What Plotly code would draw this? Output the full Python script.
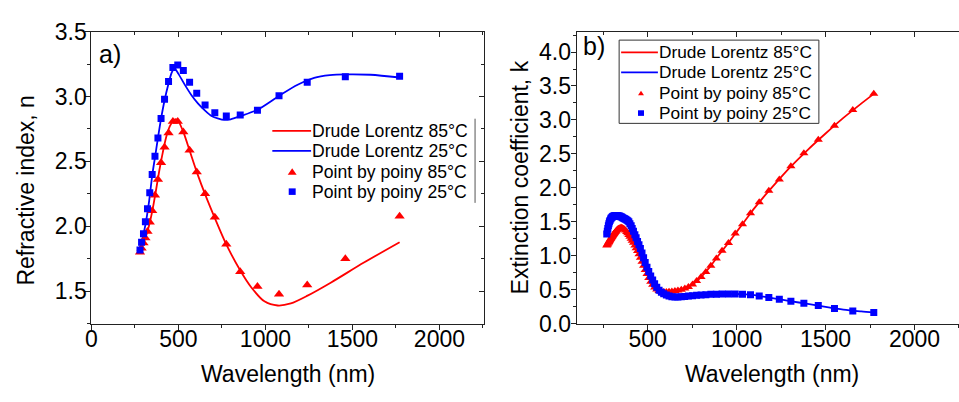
import plotly.graph_objects as go

# ---------------- Panel a: refractive index n ----------------
wl_a = [279, 288, 299, 310, 322, 335, 349, 365, 382, 400, 420, 443, 468,
        496, 528, 564, 605, 653, 709, 775, 855, 954, 1078, 1240, 1459, 1771]
n_pts_25 = [1.817, 1.877, 1.942, 2.034, 2.135, 2.258, 2.399, 2.539, 2.68, 2.83,
            2.98, 3.116, 3.224, 3.243, 3.20, 3.11, 3.026, 2.935, 2.875, 2.851,
            2.858, 2.894, 3.007, 3.11, 3.152, 3.156]
n_pts_85 = [1.80, 1.83, 1.87, 1.91, 1.96, 2.03, 2.12, 2.24, 2.36, 2.49,
            2.61, 2.719, 2.808, 2.808, 2.726, 2.586, 2.418, 2.25, 2.07, 1.861,
            1.649, 1.536, 1.476, 1.548, 1.75, 2.077]

fit_wl_a85 = [275, 290, 310, 330, 350, 370, 390, 410, 430, 450, 470, 485, 500,
              530, 565, 610, 655, 710, 775, 857, 918, 994, 1070, 1146, 1242,
              1375, 1566, 1771]
fit_n_85 = [1.79, 1.84, 1.91, 2.0, 2.12, 2.27, 2.43, 2.57, 2.69, 2.77, 2.815,
            2.825, 2.81, 2.72, 2.58, 2.40, 2.24, 2.06, 1.86, 1.655, 1.53, 1.421,
            1.389, 1.405, 1.465, 1.565, 1.72, 1.877]

fit_wl_a25 = [270, 290, 310, 330, 350, 365, 382, 400, 420, 443, 460, 472, 485,
              500, 537, 575, 613, 650, 690, 730, 762, 800, 857, 956, 1080, 1185,
              1280, 1370, 1461, 1604, 1771]
fit_n_25 = [1.80, 1.89, 2.01, 2.18, 2.40, 2.53, 2.68, 2.83, 2.97, 3.10, 3.18,
            3.21, 3.205, 3.175, 3.09, 3.01, 2.945, 2.895, 2.85, 2.83, 2.82, 2.825,
            2.85, 2.90, 3.007, 3.091, 3.144, 3.165, 3.171, 3.168, 3.147]

# ---------------- Panel b: extinction coefficient k ----------------
wl_b = [270, 273, 276, 279, 282, 285, 288, 292, 295, 299,
        302, 306, 310, 314, 318, 322, 326, 331, 335, 340,
        344, 349, 354, 359, 365, 370, 376, 382, 388, 394,
        400, 407, 413, 420, 428, 435, 443, 451, 459, 468,
        477, 486, 496, 506, 517, 528, 539, 551, 564, 577,
        590, 605, 620, 636, 653, 670, 689, 709, 729, 752,
        775, 800, 827, 855, 886, 918, 954, 992, 1033, 1078,
        1127, 1181, 1240, 1305, 1378, 1459, 1550, 1653, 1771]
k_pts_25 = [1.32, 1.36, 1.40, 1.44, 1.47, 1.50, 1.52, 1.54, 1.555, 1.565,
            1.575, 1.58, 1.585, 1.59, 1.59, 1.59, 1.59, 1.59, 1.585, 1.585,
            1.58, 1.575, 1.57, 1.56, 1.55, 1.545, 1.535, 1.525, 1.515, 1.50,
            1.47, 1.44, 1.40, 1.36, 1.31, 1.265, 1.21, 1.16, 1.105, 1.04,
            0.97, 0.90, 0.83, 0.765, 0.70, 0.64, 0.585, 0.535, 0.49, 0.46,
            0.44, 0.42, 0.405, 0.395, 0.39, 0.39, 0.395, 0.40, 0.405, 0.41,
            0.415, 0.42, 0.425, 0.43, 0.432, 0.435, 0.435, 0.435, 0.432, 0.425,
            0.405, 0.382, 0.359, 0.327, 0.30, 0.267, 0.221, 0.186, 0.162]
k_pts_85 = [1.15, 1.16, 1.175, 1.19, 1.20, 1.215, 1.23, 1.245, 1.26, 1.275,
            1.29, 1.305, 1.32, 1.335, 1.35, 1.36, 1.375, 1.385, 1.395, 1.40,
            1.405, 1.41, 1.41, 1.405, 1.395, 1.385, 1.37, 1.35, 1.33, 1.305,
            1.28, 1.25, 1.22, 1.19, 1.15, 1.11, 1.07, 1.02, 0.97, 0.91,
            0.85, 0.79, 0.73, 0.67, 0.615, 0.57, 0.53, 0.50, 0.48, 0.47,
            0.465, 0.465, 0.468, 0.472, 0.478, 0.487, 0.498, 0.515, 0.54, 0.575,
            0.625, 0.685, 0.76, 0.85, 0.96, 1.073, 1.188, 1.326, 1.464, 1.626,
            1.786, 1.957, 2.123, 2.316, 2.51, 2.707, 2.914, 3.145, 3.384]

fit_wl_b = [270, 285, 300, 320, 340, 360, 380, 400, 420, 440,
            460, 480, 500, 520, 540, 560, 580, 600, 620, 650,
            680, 720, 760, 800, 850, 900, 950, 1000, 1050, 1100,
            1150, 1200, 1300, 1400, 1500, 1600, 1700, 1771]
fit_k_85 = [1.15, 1.215, 1.28, 1.355, 1.40, 1.405, 1.355, 1.28, 1.19, 1.09,
            0.965, 0.83, 0.705, 0.60, 0.527, 0.487, 0.47, 0.465, 0.468, 0.477,
            0.492, 0.528, 0.59, 0.685, 0.835, 1.01, 1.175, 1.35, 1.525, 1.70,
            1.86, 2.01, 2.30, 2.56, 2.80, 3.03, 3.24, 3.384]
fit_k_25 = [1.32, 1.50, 1.57, 1.59, 1.585, 1.56, 1.53, 1.47, 1.36, 1.23,
            1.10, 0.95, 0.80, 0.68, 0.58, 0.50, 0.455, 0.425, 0.405, 0.39,
            0.392, 0.402, 0.41, 0.42, 0.43, 0.433, 0.435, 0.435, 0.43, 0.42,
            0.395, 0.375, 0.33, 0.29, 0.245, 0.205, 0.178, 0.162]

labels = ["Drude Lorentz 85°C", "Drude Lorentz 25°C",
          "Point by poiny 85°C", "Point by poiny 25°C"]

RED = "#ff0000"
BLUE = "#0000ff"
FONT = "Liberation Sans, Arial, sans-serif"
W, H = 959, 402


def px_x(p):
    return p / W


def px_y(p):
    return (H - p) / H


fig = go.Figure()

# panel a
fig.add_trace(go.Scatter(x=fit_wl_a85, y=fit_n_85, mode="lines", name=labels[0],
                         line=dict(color=RED, width=1.8, shape="spline", smoothing=0.8),
                         xaxis="x", yaxis="y"))
fig.add_trace(go.Scatter(x=fit_wl_a25, y=fit_n_25, mode="lines", name=labels[1],
                         line=dict(color=BLUE, width=1.8, shape="spline", smoothing=0.8),
                         xaxis="x", yaxis="y"))
fig.add_trace(go.Scatter(x=wl_a, y=n_pts_85, mode="markers", name=labels[2],
                         marker=dict(symbol="triangle-up", size=9, color=RED),
                         xaxis="x", yaxis="y"))
fig.add_trace(go.Scatter(x=wl_a, y=n_pts_25, mode="markers", name=labels[3],
                         marker=dict(symbol="square", size=7, color=BLUE),
                         xaxis="x", yaxis="y"))

# panel b
fig.add_trace(go.Scatter(x=fit_wl_b, y=fit_k_85, mode="lines", name=labels[0],
                         line=dict(color=RED, width=1.8, shape="spline", smoothing=0.8),
                         xaxis="x2", yaxis="y2"))
fig.add_trace(go.Scatter(x=fit_wl_b, y=fit_k_25, mode="lines", name=labels[1],
                         line=dict(color=BLUE, width=1.8, shape="spline", smoothing=0.8),
                         xaxis="x2", yaxis="y2"))
fig.add_trace(go.Scatter(x=wl_b, y=k_pts_85, mode="markers", name=labels[2],
                         marker=dict(symbol="triangle-up", size=8, color=RED),
                         xaxis="x2", yaxis="y2"))
fig.add_trace(go.Scatter(x=wl_b, y=k_pts_25, mode="markers", name=labels[3],
                         marker=dict(symbol="square", size=7, color=BLUE),
                         xaxis="x2", yaxis="y2"))

# empty traces that carry the mirrored frame axes (top / right, ticks inward)
fig.add_trace(go.Scatter(x=[], y=[], xaxis="x3", yaxis="y3", hoverinfo="skip"))
fig.add_trace(go.Scatter(x=[], y=[], xaxis="x4", yaxis="y4", hoverinfo="skip"))

XA = [86, 481]
XB = [574.3, 959]
YD = [px_y(332), px_y(20)]
XR_A = [0, 2256]
XR_B = [101, 2250]
YR_A = [1.25, 3.5]
YR_B = [0, 4.3]

axis_common = dict(showgrid=False, zeroline=False, showline=True,
                   linecolor="#222", linewidth=1.3, tickcolor="#222",
                   tickwidth=1, tickfont=dict(family=FONT, size=23, color="#000"))

fig.update_layout(
    width=W, height=H, margin=dict(l=0, r=0, t=0, b=0),
    paper_bgcolor="white", plot_bgcolor="white",
    font=dict(family=FONT, color="#000"),
    showlegend=False,
    xaxis=dict(domain=[px_x(XA[0]), px_x(XA[1])], range=XR_A, anchor="y",
               ticks="outside", ticklen=5, tick0=0, dtick=500, ticklabelstandoff=-10,
               minor=dict(ticks="outside", ticklen=3, dtick=250, tickcolor="#222"),
               **axis_common),
    yaxis=dict(domain=YD, range=YR_A, anchor="x",
               ticks="outside", ticklen=5, tick0=0, dtick=0.5, tickformat=".1f",
               ticklabelstandoff=-6,
               minor=dict(ticks="outside", ticklen=3, dtick=0.25, tickcolor="#222"),
               **axis_common),
    xaxis3=dict(overlaying="x", side="top", anchor="y", range=XR_A,
                ticks="inside", ticklen=5, tick0=0, dtick=500, showticklabels=False,
                minor=dict(ticks="inside", ticklen=3, dtick=250, tickcolor="#222"),
                **axis_common),
    yaxis3=dict(overlaying="y", side="right", anchor="x", range=YR_A,
                ticks="inside", ticklen=5, tick0=0, dtick=0.5, showticklabels=False,
                minor=dict(ticks="inside", ticklen=3, dtick=0.25, tickcolor="#222"),
                **axis_common),
    xaxis2=dict(domain=[px_x(XB[0]), px_x(XB[1])], range=XR_B, anchor="y2",
                ticks="outside", ticklen=5, tick0=0, dtick=500, ticklabelstandoff=-10,
                minor=dict(ticks="outside", ticklen=3, dtick=250, tickcolor="#222"),
                **axis_common),
    yaxis2=dict(domain=YD, range=YR_B, anchor="x2",
                ticks="outside", ticklen=5, tick0=0, dtick=0.5, tickformat=".1f",
                ticklabelstandoff=-5,
                minor=dict(ticks="outside", ticklen=3, dtick=0.25, tickcolor="#222"),
                **axis_common),
    xaxis4=dict(overlaying="x2", side="top", anchor="y2", range=XR_B,
                ticks="inside", ticklen=5, tick0=0, dtick=500, showticklabels=False,
                minor=dict(ticks="inside", ticklen=3, dtick=250, tickcolor="#222"),
                **axis_common),
    yaxis4=dict(overlaying="y2", side="right", anchor="x2", range=YR_B,
                visible=False),
)


# ---------------- legends (drawn in paper space) ----------------
def legend_block(rows_y, line_x, text_x, sym_x, tri_w, tri_h, sq, fsize):
    """Four legend rows: two line samples, a triangle and a square."""
    colors = [RED, BLUE, RED, BLUE]
    for i, (yy, lab) in enumerate(zip(rows_y, labels)):
        if i < 2:
            fig.add_shape(type="line", xref="paper", yref="paper",
                          x0=px_x(line_x[0]), x1=px_x(line_x[1]),
                          y0=px_y(yy), y1=px_y(yy),
                          line=dict(color=colors[i], width=1.8))
        elif i == 2:
            path = "M {:.5f},{:.5f} L {:.5f},{:.5f} L {:.5f},{:.5f} Z".format(
                px_x(sym_x - tri_w / 2), px_y(yy + tri_h / 2),
                px_x(sym_x + tri_w / 2), px_y(yy + tri_h / 2),
                px_x(sym_x), px_y(yy - tri_h / 2))
            fig.add_shape(type="path", xref="paper", yref="paper", path=path,
                          fillcolor=RED, line=dict(width=0))
        else:
            fig.add_shape(type="rect", xref="paper", yref="paper",
                          x0=px_x(sym_x - sq / 2), x1=px_x(sym_x + sq / 2),
                          y0=px_y(yy + sq / 2), y1=px_y(yy - sq / 2),
                          fillcolor=BLUE, line=dict(width=0))
        fig.add_annotation(text=lab, xref="paper", yref="paper",
                           x=px_x(text_x), y=px_y(yy), xanchor="left",
                           yanchor="middle", showarrow=False, borderpad=0,
                           font=dict(family=FONT, size=fsize, color="#000"))


# panel b legend frame
fig.add_shape(type="rect", xref="paper", yref="paper",
              x0=px_x(617), x1=px_x(818), y0=px_y(118), y1=px_y(29),
              fillcolor="white", line=dict(color="#333", width=1), layer="above")

legend_block([126, 147.5, 169.5, 191], (268, 307), 307, 288, 9, 7, 7, 17.6)
legend_block([42, 63.5, 85.5, 107], (619, 656), 656, 639, 6, 5, 6, 17.3)

# right edge of the panel a legend frame
fig.add_shape(type="line", xref="paper", yref="paper",
              x0=px_x(472), x1=px_x(472), y0=px_y(113), y1=px_y(203),
              line=dict(color="#555", width=1))

ann = [
    dict(text="a)", x=px_x(92), y=px_y(44), xanchor="left", yanchor="middle",
         font=dict(size=25)),
    dict(text="b)", x=px_x(579), y=px_y(35), xanchor="left", yanchor="middle",
         font=dict(size=25)),
    dict(text="Wavelength (nm)", x=px_x(283.5), y=px_y(386), xanchor="center",
         yanchor="middle", font=dict(size=23)),
    dict(text="Wavelength (nm)", x=px_x(771), y=px_y(386), xanchor="center",
         yanchor="middle", font=dict(size=23)),
    dict(text="Refractive index, n", x=px_x(20), y=px_y(190), textangle=-90,
         xanchor="center", yanchor="middle", font=dict(size=23)),
    dict(text="Extinction coefficient, k", x=px_x(517), y=px_y(176), textangle=-90,
         xanchor="center", yanchor="middle", font=dict(size=23)),
]
for a in ann:
    a.update(xref="paper", yref="paper", showarrow=False)
    a["font"].update(family=FONT, color="#000")
    fig.add_annotation(**a)

fig.write_html("out.html")
